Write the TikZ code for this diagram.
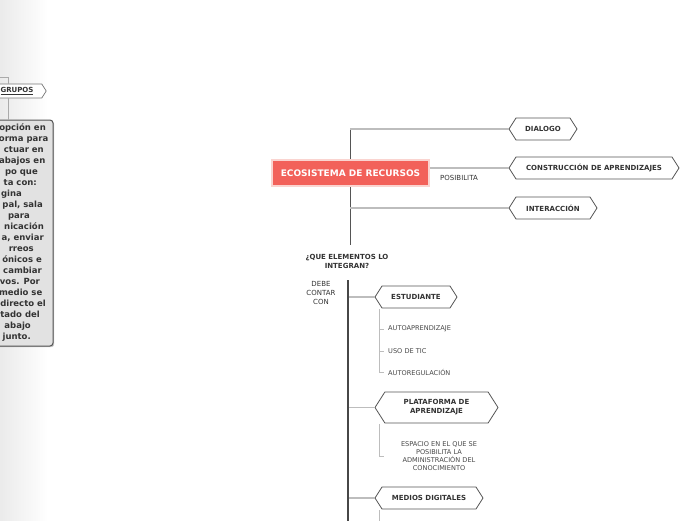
\documentclass[tikz,border=0pt]{standalone}
\usepackage{fontspec}
\setmainfont{DejaVu Sans}
\usetikzlibrary{shapes.symbols,shadows}
\definecolor{coral}{HTML}{F2615A}
\definecolor{pinkb}{HTML}{FAD4D0}
\definecolor{dk}{HTML}{555555}
\definecolor{txt}{HTML}{333333}
\definecolor{ln}{HTML}{BDBDBD}
\definecolor{boxg}{HTML}{E2E2E2}
\begin{document}
\begin{tikzpicture}[x=1pt,y=-1pt,
  hexbox/.style={signal, signal to=east and west, signal pointer angle=115, draw=dk, line width=0.8pt, fill=white, inner sep=0pt, minimum height=22pt, font=\fontsize{7}{9}\selectfont\bfseries, text=txt, align=center},
  conn/.style={draw=ln, line width=1.2pt},
  subln/.style={draw=ln, line width=0.9pt},
  subtxt/.style={font=\fontsize{6.6}{8}\selectfont, text=txt!90, inner sep=0pt},
  lbl/.style={font=\fontsize{7}{9}\selectfont, text=txt, inner sep=0pt, align=center},
  frag/.style={anchor=base east, font=\fontsize{8.5}{9}\selectfont\bfseries, text=txt, inner sep=0pt}]
\useasboundingbox (0,0) rectangle (696,520);
% left panel
\shade[left color=black!8, right color=white] (0,0) rectangle (48,520);
\coordinate (g0) at (0,77);
\coordinate (gx) at (8,0);
\node[signal, signal to=east, signal pointer angle=115, draw=dk!80, line width=0.7pt, fill=white, minimum width=54pt, minimum height=14pt, inner sep=0pt, font=\fontsize{7}{8}\selectfont\bfseries, text=txt] (grupos) at (17,91) {\underline{GRUPOS}};
\node[draw=dk, fill=boxg, rounded corners=3pt, line width=1pt, minimum width=63pt, minimum height=226pt, inner sep=0pt, drop shadow={shadow xshift=1.2pt, shadow yshift=-1.2pt, opacity=0.45}] (desc) at (21.5,233) {};
\draw[draw=ln!90!black, line width=0.8pt] (g0) -| (grupos.north -| gx);
\draw[draw=ln!90!black, line width=0.8pt] (grupos.south -| gx) -- (desc.north -| gx);
\node[frag] (f1) at (46,130.7) {opción en};
\node[frag] (f2) at (48.5,141.7) {orma para};
\node[frag] (f3) at (44,152.7) {ctuar en};
\node[frag] (f4) at (45.5,163.7) {abajos en};
\node[frag] (f5) at (38,174.7) {po que};
\node[frag] (f6) at (37,185.7) {ta con:};
\node[frag] (f7) at (22,196.7) {gina};
\node[frag] (f8) at (43,207.7) {pal, sala};
\node[frag] (f9) at (30,218.7) {para};
\node[frag] (f10) at (44,229.7) {nicación};
\node[frag] (f11) at (44,240.7) {a, enviar};
\node[frag] (f12) at (34,251.7) {rreos};
\node[frag] (f13) at (42,262.7) {ónicos e};
\node[frag] (f14) at (42,273.7) {cambiar};
\node[frag] (f15) at (40,284.7) {vos. Por};
\node[frag] (f16) at (42.5,295.7) {medio se};
\node[frag] (f17) at (46,306.7) {directo el};
\node[frag] (f18) at (40,317.7) {tado del};
\node[frag] (f19) at (31,328.7) {abajo};
\node[frag] (f20) at (31,339.7) {junto.};
% main title
\coordinate (top) at (350,129);
\coordinate (bot) at (350,245);
\draw[dk, line width=1pt] (top) -- (bot);
\node[fill=coral, draw=pinkb, line width=1.5pt, minimum width=157pt, minimum height=26pt, inner sep=0pt, text=white, font=\fontsize{9}{10}\selectfont\bfseries] (eco) at (350.5,173) {ECOSISTEMA DE RECURSOS};
\node[hexbox, minimum width=68pt] (dialogo) at (543,129) {DIALOGO};
\node[hexbox, minimum width=170pt] (constr) at (594,168) {CONSTRUCCIÓN DE APRENDIZAJES};
\node[hexbox, minimum width=88pt] (inter) at (553,208) {INTERACCIÓN};
\draw[conn] (top) -- (dialogo.west);
\draw[conn] (eco.east |- constr.west) -- (constr.west);
\draw[conn] (top |- inter.west) -- (inter.west);
\node[lbl] (posib) at (459,178) {POSIBILITA};
% second level
\node[lbl, font=\fontsize{7}{9}\selectfont\bfseries] (q) at (347,261) {¿QUE ELEMENTOS LO\\INTEGRAN?};
\node[lbl] (debe) at (321,293) {DEBE\\CONTAR\\CON};
\coordinate (s2top) at (348,280);
\coordinate (s2bot) at (348,522);
\node[hexbox, minimum width=82pt] (estud) at (416,297) {ESTUDIANTE};
\node[hexbox, minimum width=123pt, minimum height=31pt] (plat) at (436.5,407.5) {PLATAFORMA DE\\APRENDIZAJE};
\node[hexbox, minimum width=108pt] (medios) at (429,498) {MEDIOS DIGITALES};
\draw[conn] (s2top |- estud.west) -- (estud.west);
\draw[conn] (s2top |- plat.west) -- (plat.west);
\draw[conn] (s2top |- medios.west) -- (medios.west);
\draw[draw=black!72, line width=2.6pt] (s2top) -- (s2bot);
% estudiante items
\node[subtxt, anchor=west] (a1) at (388,329) {AUTOAPRENDIZAJE};
\node[subtxt, anchor=west] (a2) at (388,351) {USO DE TIC};
\node[subtxt, anchor=west] (a3) at (388,372) {AUTOREGULACIÓN};
\coordinate (eb) at (379,309);
\draw[subln] (eb) |- ([xshift=-4pt]a3.west);
\draw[subln] ([xshift=-9pt]a1.west) -- ([xshift=-4pt]a1.west);
\draw[subln] ([xshift=-9pt]a2.west) -- ([xshift=-4pt]a2.west);
% plataforma item
\node[subtxt, align=center] (esp) at (439,456.5) {ESPACIO EN EL QUE SE\\POSIBILITA LA\\ADMINISTRACIÓN DEL\\CONOCIMIENTO};
\coordinate (pb) at (379,424);
\coordinate (pt) at (384,456);
\draw[subln] (pb) |- (pt);
% medios item
\coordinate (mb) at (379,510);
\coordinate (me) at (379,522);
\draw[subln] (mb) -- (me);
\end{tikzpicture}
\end{document}
